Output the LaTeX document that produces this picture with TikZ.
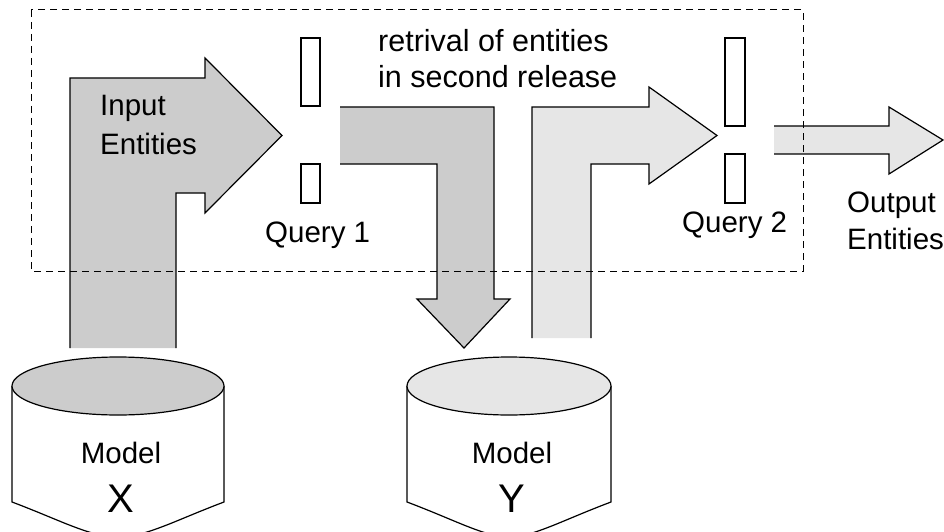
\documentclass[tikz,border=0pt]{standalone}
\usepackage{fontspec}
\setmainfont{Liberation Sans}
\definecolor{darkfill}{HTML}{CCCCCC}
\definecolor{lightfill}{HTML}{E6E6E6}
\begin{document}
\begin{tikzpicture}[x=1pt,y=-1pt,
  outline/.style={line width=1.2pt, line join=miter},
  lbl/.style={font=\fontsize{29.5}{36}\selectfont, inner sep=0pt, anchor=base west},
  bigl/.style={font=\fontsize{30.5}{36}\selectfont, inner sep=0pt, anchor=base west},
  modl/.style={font=\fontsize{29.5}{36}\selectfont, inner sep=0pt, anchor=base},
  letl/.style={font=\fontsize{40}{46}\selectfont, inner sep=0pt, anchor=base},
  qbox/.style={draw, line width=1.2pt, fill=white, minimum width=19pt, inner sep=0pt},
  dashbox/.style={line width=1pt, dash pattern=on 7pt off 5pt}]
\useasboundingbox (0,0) rectangle (944,532);

% block arrows
\filldraw[outline, fill=darkfill] (70,348) -- (70,78) -- (205,78) -- (205,58) -- (282,135.5) -- (205,213) -- (205,193) -- (176,193) -- (176,348);
\filldraw[outline, fill=darkfill] (340,107) -- (494,107) -- (494,299) -- (510,299) -- (464,348) -- (417,299) -- (437,299) -- (437,164) -- (340,164);
\filldraw[outline, fill=lightfill] (532,338) -- (532,107) -- (649,107) -- (649,87) -- (717,135.5) -- (649,184) -- (649,164) -- (591,164) -- (591,338);
\filldraw[outline, fill=lightfill] (774,126) -- (889,126) -- (889,107) -- (943,140) -- (889,174) -- (889,154) -- (774,154);

% query gates
\node[qbox, minimum height=68pt] (q1a) at (310.5,72) {};
\node[qbox, minimum height=39pt] (q1b) at (310.5,183.5) {};
\node[qbox, minimum width=20pt, minimum height=88pt] (q2a) at (735,82) {};
\node[qbox, minimum width=20pt, minimum height=49pt] (q2b) at (735,178.5) {};

% dashed frame
\draw[dashbox] (31,10) rectangle (803,271);

% databases
\filldraw[outline, fill=white] (12,386) -- (12,502) .. controls (60,520) and (90,537) .. (118,537) .. controls (146,537) and (176,520) .. (224,502) -- (224,386);
\filldraw[outline, fill=darkfill] (118,386) ellipse [x radius=106pt, y radius=29pt];
\filldraw[outline, fill=white] (407,386) -- (407,502) .. controls (455,520) and (485,537) .. (509,537) .. controls (533,537) and (563,520) .. (611,502) -- (611,386);
\filldraw[outline, fill=lightfill] (509,386) ellipse [x radius=102pt, y radius=29pt];

% labels
\node[lbl] (in1) at (100,115) {Input};
\node[lbl] (in2) at (100,154) {Entities};
\node[bigl] (rt1) at (378,52) {retrival of entities};
\node[bigl] (rt2) at (378,88) {in second release};
\node[lbl] (q1l) at (265,242) {Query 1};
\node[lbl] (q2l) at (682,232) {Query 2};
\node[lbl] (out1) at (847,212) {Output};
\node[lbl] (out2) at (847,249) {Entities};
\node[modl] (mx) at (121,463) {Model};
\node[letl] (mxl) at (121,512) {X};
\node[modl] (my) at (512,463) {Model};
\node[letl] (myl) at (512,512) {Y};
\end{tikzpicture}
\end{document}
